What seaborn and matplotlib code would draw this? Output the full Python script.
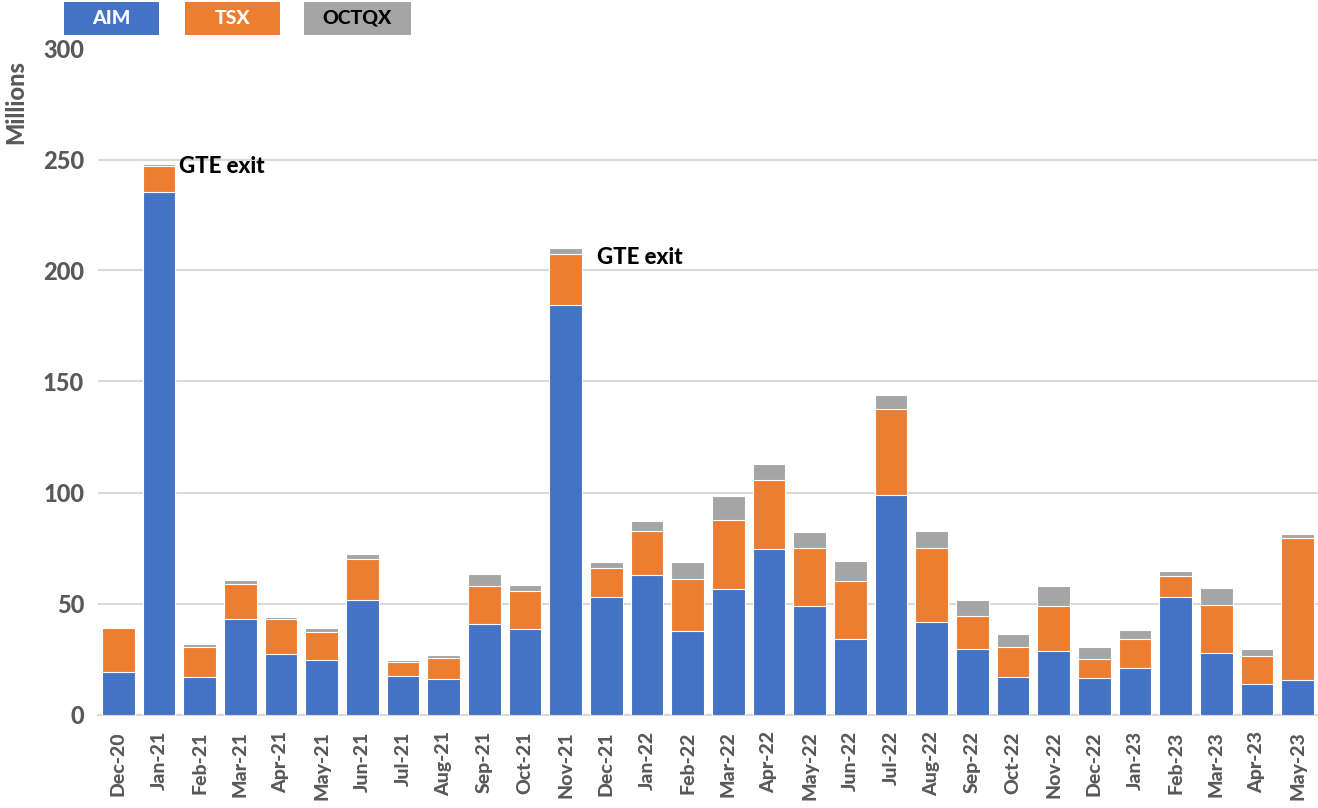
import os
import matplotlib
matplotlib.use("Agg")
import matplotlib.pyplot as plt
from matplotlib import font_manager
from matplotlib.patches import Rectangle
import seaborn as sns
import pandas as pd
import numpy as np

months = ["Dec-20", "Jan-21", "Feb-21", "Mar-21", "Apr-21", "May-21", "Jun-21", "Jul-21",
          "Aug-21", "Sep-21", "Oct-21", "Nov-21", "Dec-21", "Jan-22", "Feb-22", "Mar-22",
          "Apr-22", "May-22", "Jun-22", "Jul-22", "Aug-22", "Sep-22", "Oct-22", "Nov-22",
          "Dec-22", "Jan-23", "Feb-23", "Mar-23", "Apr-23", "May-23"]
aim = [19.3, 235.5, 16.8, 42.9, 27.4, 24.5, 51.7, 17.5, 15.9, 40.9, 38.4, 184.5,
       53.1, 63.0, 37.7, 56.4, 74.5, 49.0, 33.9, 98.9, 41.7, 29.6, 17.0, 28.7,
       16.6, 20.9, 52.8, 27.8, 13.6, 15.7]
tsx = [19.8, 11.6, 13.5, 15.7, 15.5, 12.5, 18.2, 6.3, 9.7, 17.1, 17.1, 23.1,
       13.0, 19.8, 23.5, 31.3, 31.3, 26.1, 26.1, 38.7, 33.4, 14.9, 13.4, 20.0,
       8.5, 13.2, 9.4, 21.6, 12.8, 63.9]
octqx = [0.4, 0.9, 1.5, 2.0, 0.9, 1.8, 2.3, 0.9, 1.2, 5.3, 2.7, 2.4,
         2.7, 4.2, 7.4, 10.9, 7.2, 7.2, 9.1, 6.5, 7.6, 6.9, 5.9, 9.2,
         5.3, 4.1, 2.4, 7.4, 3.0, 1.8]
series_names = ["AIM", "TSX", "OCTQX"]
annotations = {"Jan-21": "GTE exit", "Nov-21": "GTE exit"}

colors = {"AIM": "#4472C4", "TSX": "#ED7D31", "OCTQX": "#A5A5A5"}

df = pd.DataFrame({"month": months, "AIM": aim, "TSX": tsx, "OCTQX": octqx})
df["c1"] = df["AIM"]
df["c2"] = df["AIM"] + df["TSX"]
df["c3"] = df["c2"] + df["OCTQX"]

sns.set_style("white")
plt.rcParams["font.family"] = ["Lato", "DejaVu Sans"]

# locate a heavy face file
bold_file = None
files = {os.path.basename(f.fname).lower(): f.fname for f in font_manager.fontManager.ttflist}
for pref in ["lato-heavy.ttf", "lato-extrabold.ttf", "lato-bold.ttf", "lato-bold.otf"]:
    if pref in files:
        bold_file = files[pref]
        break


def fp(size):
    if bold_file:
        return font_manager.FontProperties(fname=bold_file, size=size)
    return font_manager.FontProperties(family=["Open Sans", "DejaVu Sans"], weight="bold", size=size)


fig = plt.figure(figsize=(13.18, 8.08), dpi=100)
ax = fig.add_axes([98 / 1318, 1 - 714.5 / 808, 1 - 98 / 1318, (714.5 - 48.5) / 808])

for col, name in [("c3", "OCTQX"), ("c2", "TSX"), ("c1", "AIM")]:
    sns.barplot(data=df, x="month", y=col, color=colors[name], width=0.8,
                edgecolor="white", linewidth=0.8, saturation=1, ax=ax, zorder=3)

ax.set_ylim(0, 300)
ax.set_xlim(-0.5, len(months) - 0.5)
ax.yaxis.grid(True, color="#D9D9D9", linewidth=1.5, zorder=0)
ax.xaxis.grid(False)
for s in ["top", "right", "left"]:
    ax.spines[s].set_visible(False)
ax.spines["bottom"].set_color("#D9D9D9")
ax.spines["bottom"].set_linewidth(1.5)
ax.tick_params(axis="both", length=0)
ax.tick_params(axis="y", pad=10)
ax.tick_params(axis="x", pad=12)
ax.set_xlabel("")
ax.set_ylabel("Millions", fontproperties=fp(17), color="#595959")
ax.yaxis.set_label_coords(-0.058, 0.92)
ax.set_yticks([0, 50, 100, 150, 200, 250, 300])
ax.set_yticklabels(["0", "50", "100", "150", "200", "250", "300"], fontproperties=fp(17), color="#595959")
ax.set_xticks(range(len(months)))
ax.set_xticklabels(months, rotation=90, fontproperties=fp(14), color="#595959")

for m, txt in annotations.items():
    i = months.index(m)
    top = df.loc[i, "c3"]
    off = 0.5 if m == "Jan-21" else 0.78
    dy = -1 if m == "Jan-21" else -4
    ax.text(i + off, top + dy, txt, fontproperties=fp(16), color="black",
            ha="left", va="center", zorder=5)

# legend boxes
boxes = [("AIM", 64, 159, "white"), ("TSX", 185, 280, "white"), ("OCTQX", 304, 411, "black")]
for name, x0, x1, tc in boxes:
    fig.patches.append(Rectangle((x0 / 1318, 1 - 35 / 808), (x1 - x0) / 1318, 33 / 808,
                                 transform=fig.transFigure, facecolor=colors[name],
                                 edgecolor="none"))
    fig.text((x0 + x1) / 2 / 1318, 1 - 18.5 / 808, name, ha="center", va="center",
             fontproperties=fp(14), color=tc)

fig.savefig("out.png", dpi=100)
